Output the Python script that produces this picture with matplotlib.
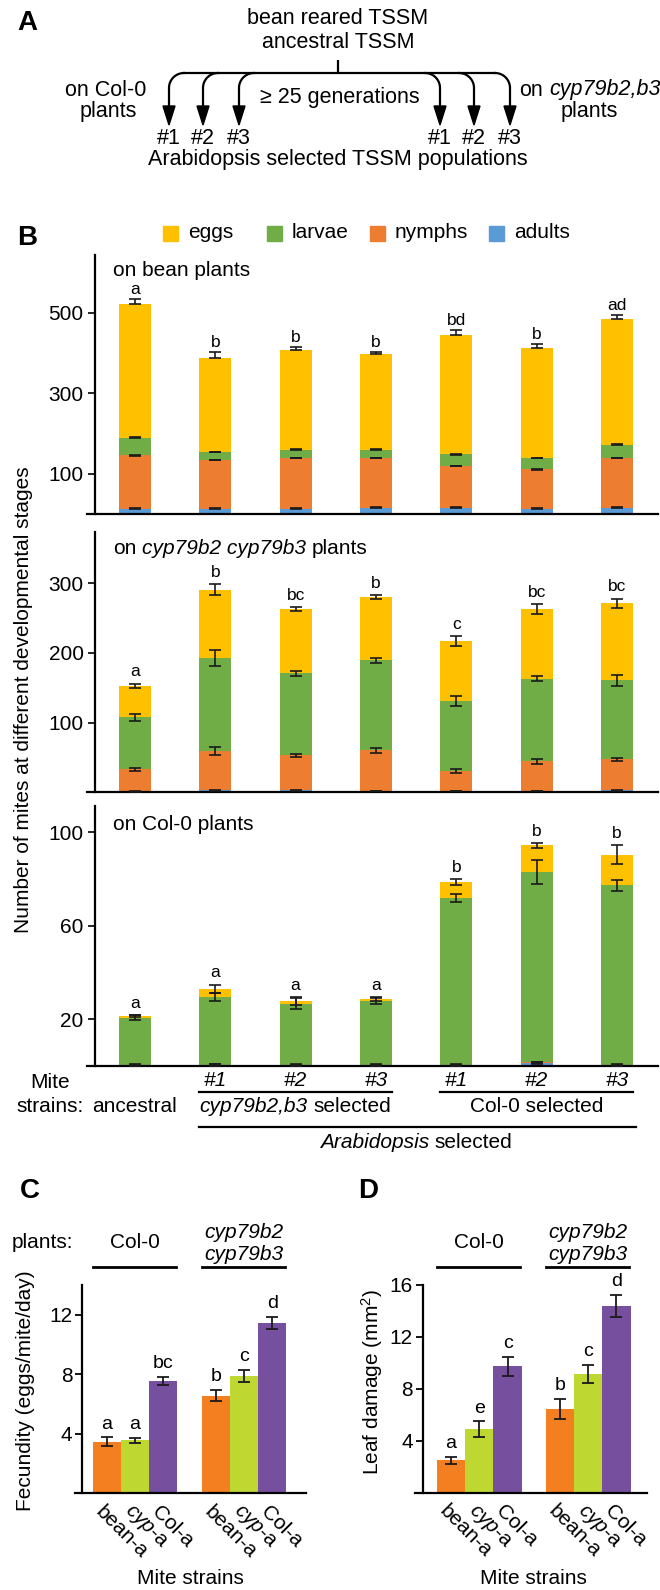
import numpy as np
import matplotlib.pyplot as plt
from matplotlib.patches import Rectangle, Polygon
from matplotlib.transforms import blended_transform_factory, ScaledTranslation

plt.rcParams['font.family'] = ['Liberation Sans', 'DejaVu Sans']
plt.rcParams['mathtext.fontset'] = 'custom'
plt.rcParams['mathtext.rm'] = 'Liberation Sans'
plt.rcParams['mathtext.it'] = 'Liberation Sans:italic'

# ---------------- data ----------------
stages = ['eggs', 'larvae', 'nymphs', 'adults']
stage_colors = ['#FFC000', '#70AD47', '#ED7D31', '#5B9BD5']
strains = ['ancestral', 'cyp #1', 'cyp #2', 'cyp #3', 'Col #1', 'Col #2', 'Col #3']
sel_labels = ['#1', '#2', '#3']

# B: on bean plants (stack order bottom -> top: adults, nymphs, larvae, eggs)
bean_adults = [13, 13, 13, 16, 16, 13, 16]
bean_nymphs = [133, 121, 126, 123, 103, 98, 123]
bean_larvae = [43, 20, 21, 21, 29, 28, 33]
bean_eggs = [332, 234, 246, 237, 296, 273, 312]
bean_small_err = [1, 1, 1, 1, 1, 1, 1]
bean_eggs_err = [12, 13, 9, 5, 12, 11, 9]
bean_letters = ['a', 'b', 'b', 'b', 'bd', 'b', 'ad']

# B: on cyp79b2 cyp79b3 plants
cyp_adults = [1, 3, 3, 2, 2, 2, 3]
cyp_nymphs = [32, 56, 50, 58, 28.6, 42.5, 44.4]
cyp_larvae = [74.7, 133.9, 117.8, 129.2, 100.4, 118.5, 113.6]
cyp_eggs = [44.9, 97.6, 92.2, 91, 86, 100, 110]
cyp_adults_err = [0.5, 1, 1, 0.5, 0.5, 0.5, 0.5]
cyp_nymphs_err = [2, 6, 2, 3, 2.5, 4, 2]
cyp_larvae_err = [5, 11, 3.5, 4, 6.5, 3.5, 8]
cyp_eggs_err = [3.5, 8, 3, 2.5, 7, 7.5, 7]
cyp_letters = ['a', 'b', 'bc', 'b', 'c', 'bc', 'bc']

# B: on Col-0 plants
col_adults = [0.3, 0.3, 0.3, 0.3, 0.3, 1.2, 0.3]
col_nymphs = [0.2, 0.2, 0.2, 0.2, 0.2, 0.3, 0.2]
col_larvae = [20.2, 29.1, 26.2, 27.2, 71.3, 81.6, 76.7]
col_eggs = [0.6, 3.4, 1.1, 1.0, 6.9, 11.2, 13.2]
col_small_err = [0.3, 0.4, 0.3, 0.3, 0.3, 0.4, 0.3]
col_larvae_err = [1, 1.8, 2.5, 1.3, 1.7, 5.1, 2.5]
col_eggs_err = [0.4, 1.8, 1.8, 0.8, 1.1, 0.9, 4]
col_letters = ['a', 'a', 'a', 'a', 'b', 'b', 'b']

# C / D
cd_strains = ['bean-a', r'$\mathit{cyp}$-a', 'Col-a']
cd_colors = ['#F47F20', '#BED731', '#76509E']
fec_col0 = [3.46, 3.55, 7.55]
fec_col0_err = [0.28, 0.16, 0.29]
fec_cyp = [6.55, 7.89, 11.46]
fec_cyp_err = [0.37, 0.39, 0.39]
fec_letters = ['a', 'a', 'bc', 'b', 'c', 'd']
dmg_col0 = [2.47, 4.88, 9.74]
dmg_col0_err = [0.3, 0.6, 0.73]
dmg_cyp = [6.45, 9.13, 14.37]
dmg_cyp_err = [0.78, 0.7, 0.84]
dmg_letters = ['a', 'e', 'c', 'b', 'c', 'd']

# ---------------- figure ----------------
W, H = 660, 1590
fig = plt.figure(figsize=(W / 100, H / 100), dpi=100)


def px_axes(x0, x1, ytop, ybot):
    return fig.add_axes([x0 / W, 1 - ybot / H, (x1 - x0) / W, (ybot - ytop) / H])


# overlay in pixel coordinates for the diagram and annotations
ov = fig.add_axes([0, 0, 1, 1], zorder=10)
ov.set_xlim(0, W)
ov.set_ylim(H, 0)
ov.axis('off')
renderer = fig.canvas.get_renderer()


def px(ax, xd):
    return ax.transData.transform((xd, 0))[0]


def text_w(s, size, style):
    t = ov.text(0, 0, s, fontsize=size, style=style)
    w = t.get_window_extent(renderer).width
    t.remove()
    return w


def rich(x, y, parts, size, ha='center'):
    gap = text_w('a a', size, 'normal') - text_w('aa', size, 'normal')
    widths = [text_w(s, size, st) for s, st in parts]
    total = sum(widths) + gap * (len(parts) - 1)
    x0 = x - total / 2 if ha == 'center' else x
    for (s, st), w in zip(parts, widths):
        ov.text(x0, y, s, fontsize=size, style=st, ha='left', va='center')
        x0 += w + gap


LW = 1.6
FA = 15.5

# ---------------- panel A ----------------
ov.text(17, 23, 'A', fontsize=20, fontweight='bold', va='center')
ov.text(338, 18, 'bean reared TSSM', fontsize=FA, ha='center', va='center')
ov.text(338, 42, 'ancestral TSSM', fontsize=FA, ha='center', va='center')
arrow_x = [169, 203, 239, 440, 474, 510]
hy, r = 73, 15
ov.plot([338, 338], [60, hy], color='k', lw=LW, solid_capstyle='butt')
ov.plot([arrow_x[0] + r, arrow_x[-1] - r], [hy, hy], color='k', lw=LW)
t = np.linspace(0, np.pi / 2, 30)
for i, ax_x in enumerate(arrow_x):
    s = 1 if i < 3 else -1
    cx, cy = ax_x + s * r, hy + r
    xs = np.r_[cx - s * r * np.sin(t), ax_x]
    ys = np.r_[cy - r * np.cos(t), 108]
    ov.plot(xs, ys, color='k', lw=LW)
    ov.add_patch(Polygon([[ax_x - 6, 106], [ax_x + 6, 106], [ax_x, 125]], color='k'))
    ov.text(ax_x, 138, sel_labels[i % 3], fontsize=FA, ha='center', va='center')
ov.text(106, 90, 'on Col-0', fontsize=FA, ha='center', va='center')
ov.text(108, 112, 'plants', fontsize=FA, ha='center', va='center')
rich(590, 90, [('on', 'normal'), ('cyp79b2,b3', 'italic')], FA)
ov.text(589, 112, 'plants', fontsize=FA, ha='center', va='center')
ov.text(340, 98, '\u2265 25 generations', fontsize=FA, ha='center', va='center')
ov.text(338, 160, 'Arabidopsis selected TSSM populations', fontsize=FA,
        ha='center', va='center')

# ---------------- panel B ----------------
ov.text(17, 238, 'B', fontsize=20, fontweight='bold', va='center')
leg_left = [163, 267, 370, 489]
for lx, name, col in zip(leg_left, stages, stage_colors):
    ov.add_patch(Rectangle((lx, 226), 15, 15, color=col))
    ov.text(lx + 25, 232, name, fontsize=15, va='center')

x = np.arange(len(strains))
bottom_up_colors = stage_colors[::-1]


def stacked(ax, comps, errs, letters, upper_only_last=False, lab_off=3):
    base = np.zeros(len(x))
    up = None
    for k, (vals, err, col) in enumerate(zip(comps, errs, bottom_up_colors)):
        vals = np.asarray(vals, float)
        ax.bar(x, vals, 0.4, bottom=base, color=col, edgecolor='none', zorder=2)
        base = base + vals
        e = np.asarray(err, float)
        if upper_only_last and k == len(comps) - 1:
            yerr = np.vstack([np.zeros_like(e), e])
        else:
            yerr = e
        ax.errorbar(x, base, yerr=yerr, fmt='none', ecolor='#1a1a1a',
                    elinewidth=1.2, capsize=4.5, capthick=1.2, zorder=3)
        up = e
    for xi, top, e, l in zip(x, base, up, letters):
        ax.annotate(l, (xi, top + e), xytext=(0, lab_off), textcoords='offset points',
                    ha='center', va='bottom', fontsize=12.5)


def style_b(ax, ymax, yticks):
    ax.set_xlim(-0.6, 6.51)
    ax.set_ylim(0, ymax)
    ax.set_yticks(yticks)
    ax.spines[['top', 'right']].set_visible(False)
    ax.spines['left'].set_position(('data', -0.5))
    ax.spines['left'].set_linewidth(LW)
    ax.spines['bottom'].set_linewidth(LW)
    ax.tick_params(axis='y', length=5, width=1.2, labelsize=15, pad=3)
    ax.tick_params(axis='x', length=0)
    ax.set_xticks([])


ax1 = px_axes(86.7, 658, 255, 514)
stacked(ax1, [bean_adults, bean_nymphs, bean_larvae, bean_eggs],
        [bean_small_err, bean_small_err, bean_small_err, bean_eggs_err],
        bean_letters, upper_only_last=True, lab_off=1.5)
style_b(ax1, 643, [100, 300, 500])

ax2 = px_axes(86.7, 658, 531.7, 792.3)
stacked(ax2, [cyp_adults, cyp_nymphs, cyp_larvae, cyp_eggs],
        [cyp_adults_err, cyp_nymphs_err, cyp_larvae_err, cyp_eggs_err], cyp_letters)
style_b(ax2, 374, [100, 200, 300])

ax3 = px_axes(86.7, 658, 805.7, 1066)
stacked(ax3, [col_adults, col_nymphs, col_larvae, col_eggs],
        [col_small_err, col_small_err, col_larvae_err, col_eggs_err], col_letters)
style_b(ax3, 111.3, [20, 60, 100])
ax3.set_xticks(x[1:], sel_labels * 2, fontstyle='italic', fontsize=15)
ax3.tick_params(axis='x', length=0, pad=3.5)

ov.text(113, 271, 'on bean plants', fontsize=15, va='center')
rich(113, 548, [('on', 'normal'), ('cyp79b2 cyp79b3', 'italic'), ('plants', 'normal')],
     15, ha='left')
ov.text(113, 825, 'on Col-0 plants', fontsize=15, va='center')
ov.text(24, 700, 'Number of mites at different developmental stages', fontsize=15,
        rotation=90, ha='center', va='center')

# group labels under panel B
ov.plot([px(ax3, 0.8), px(ax3, 3.2)], [1091.7, 1091.7], color='k', lw=LW)
ov.plot([px(ax3, 3.8), px(ax3, 6.2)], [1091.7, 1091.7], color='k', lw=LW)
ov.plot([px(ax3, 0.8), px(ax3, 6.24)], [1126.7, 1126.7], color='k', lw=LW)
ov.text(50, 1083, 'Mite', fontsize=15, ha='center', va='center')
ov.text(50, 1107, 'strains:', fontsize=15, ha='center', va='center')
ov.text(px(ax3, 0), 1107, 'ancestral', fontsize=15, ha='center', va='center')
rich(px(ax3, 2), 1107, [('cyp79b2,b3', 'italic'), ('selected', 'normal')], 15)
ov.text(px(ax3, 5), 1107, 'Col-0 selected', fontsize=15, ha='center', va='center')
rich(px(ax3, 3.5), 1142, [('Arabidopsis', 'italic'), ('selected', 'normal')], 15)

# ---------------- panels C and D ----------------
pos = np.r_[np.arange(3), np.arange(3) + 3.85]


def pair(ax, vals, errs, letters, ymax, yticks, spine_x, xlim):
    ax.bar(pos, vals, 1.0, color=cd_colors * 2, edgecolor='none', zorder=2)
    ax.errorbar(pos, vals, yerr=errs, fmt='none', ecolor='#1a1a1a',
                elinewidth=1.3, capsize=4, capthick=1.3, zorder=3)
    for p, v, e, l in zip(pos, vals, errs, letters):
        ax.annotate(l, (p, v + e), xytext=(0, 3.5), textcoords='offset points',
                    ha='center', va='bottom', fontsize=14)
    ax.set_xlim(*xlim)
    ax.set_ylim(0, ymax)
    ax.set_yticks(yticks)
    ax.spines[['top', 'right']].set_visible(False)
    ax.spines['left'].set_position(('data', spine_x))
    ax.spines['left'].set_linewidth(LW)
    ax.spines['bottom'].set_linewidth(LW)
    ax.tick_params(axis='y', length=5, width=1.3, labelsize=15, pad=2)
    ax.set_xticks([])
    tr = blended_transform_factory(ax.transData, ax.transAxes) + \
        ScaledTranslation(0, -9 / 100, fig.dpi_scale_trans)
    for p, lab in zip(pos, cd_strains * 2):
        ax.text(p - 0.05, 0, lab, transform=tr, rotation=-45, rotation_mode='anchor',
                ha='left', va='top', fontsize=15)


def headers(ax, y_line=1267):
    ov.plot([px(ax, -0.5), px(ax, 2.45)], [y_line, y_line], color='k', lw=2)
    ov.plot([px(ax, 3.35), px(ax, 6.3)], [y_line, y_line], color='k', lw=2)
    ov.text(px(ax, 1), 1243, 'Col-0', fontsize=15, ha='center', va='center')
    ov.text(px(ax, 4.85), 1233, 'cyp79b2', fontsize=15, style='italic', ha='center', va='center')
    ov.text(px(ax, 4.85), 1254, 'cyp79b3', fontsize=15, style='italic', ha='center', va='center')


axc = px_axes(75, 306, 1285, 1493)
pair(axc, fec_col0 + fec_cyp, fec_col0_err + fec_cyp_err, fec_letters,
     14, [4, 8, 12], -0.87, (-1.12, 7.04))
headers(axc)
ov.text(20, 1191, 'C', fontsize=20, fontweight='bold', va='center')
ov.text(12, 1243, 'plants:', fontsize=15, va='center')
ov.text(26, 1391, 'Fecundity (eggs/mite/day)', fontsize=15, rotation=90,
        ha='center', va='center')
ov.text(190, 1578, 'Mite strains', fontsize=15, ha='center', va='center')

axd = px_axes(415, 646.7, 1285, 1492.5)
pair(axd, dmg_col0 + dmg_cyp, dmg_col0_err + dmg_cyp_err, dmg_letters,
     16, [4, 8, 12, 16], -1.0, (-1.27, 6.92))
headers(axd)
ov.text(358, 1191, 'D', fontsize=20, fontweight='bold', va='center')
ov.text(372, 1382, 'Leaf damage (mm$^2$)', fontsize=15, rotation=90,
        ha='center', va='center')
ov.text(533, 1578, 'Mite strains', fontsize=15, ha='center', va='center')

fig.savefig('out.png', dpi=100)
